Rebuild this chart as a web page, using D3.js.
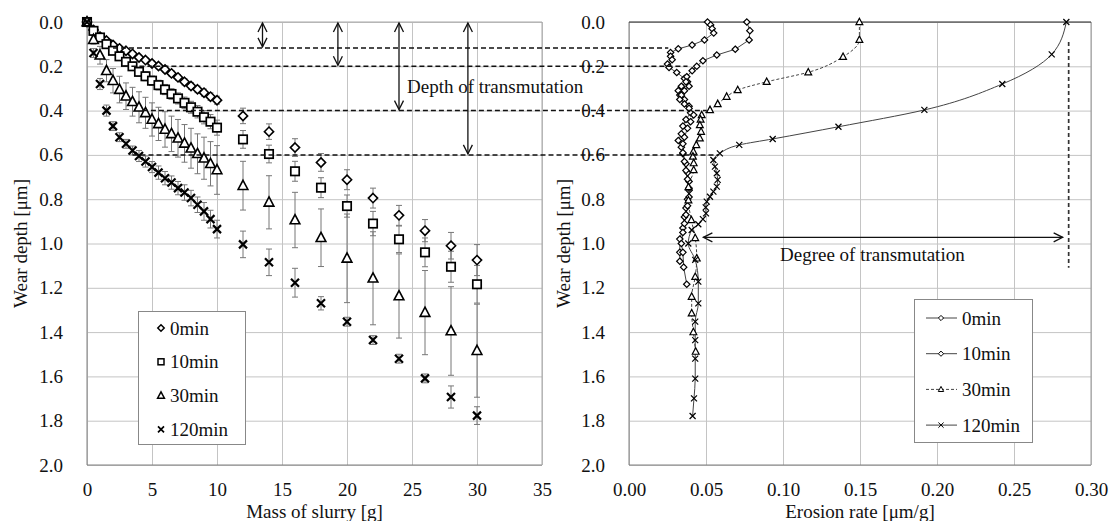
<!DOCTYPE html>
<html>
<head>
<meta charset="utf-8">
<script src="https://cdn.jsdelivr.net/npm/d3@7"></script>
<style>
  html, body { margin: 0; padding: 0; background: #fff; }
  svg text { font-family: "Liberation Serif", "Times New Roman", serif; fill: #111; }
</style>
</head>
<body>
<svg id="chart" width="1109" height="521"></svg>
<script>
// ---- data: left chart (mass of slurry vs wear depth) ----
const mass = [0,0.5,1,1.5,2,2.5,3,3.5,4,4.5,5,5.5,6,6.5,7,7.5,8,8.5,9,9.5,10,
  12,14,16,18,20,22,24,26,28,30];

const depth0 = [0,0.036,0.066,0.084,0.104,0.119,0.13,0.144,0.16,0.172,0.187,0.199,0.214,0.232,0.25,0.27,0.289,0.304,0.319,0.337,0.353,
  0.424,0.495,0.567,0.634,0.712,0.795,0.873,0.942,1.01,1.075];
const err0 = [0,0.005,0.006,0.007,0.008,0.008,0.009,0.01,0.01,0.011,0.011,0.012,0.012,0.013,0.013,0.014,0.015,0.015,0.016,0.017,0.018,
  0.035,0.035,0.04,0.04,0.045,0.045,0.045,0.05,0.06,0.07];

const depth10 = [0,0.04,0.07,0.1,0.13,0.155,0.18,0.2,0.225,0.245,0.265,0.285,0.305,0.325,0.345,0.365,0.385,0.405,0.43,0.45,0.477,
  0.53,0.596,0.674,0.748,0.831,0.91,0.981,1.04,1.105,1.184];
const err10 = [0,0.01,0.012,0.014,0.015,0.016,0.017,0.018,0.019,0.02,0.021,0.022,0.023,0.024,0.025,0.026,0.027,0.028,0.03,0.032,0.034,
  0.04,0.04,0.045,0.045,0.05,0.055,0.06,0.065,0.07,0.085];

const depth30 = [0,0.08,0.15,0.22,0.265,0.305,0.335,0.36,0.385,0.41,0.44,0.46,0.485,0.505,0.525,0.548,0.57,0.595,0.615,0.64,0.668,
  0.739,0.814,0.894,0.974,1.067,1.157,1.237,1.312,1.395,1.484];
const err30 = [0,0.02,0.04,0.05,0.055,0.06,0.06,0.065,0.07,0.07,0.075,0.075,0.08,0.08,0.085,0.085,0.09,0.09,0.095,0.1,0.11,
  0.11,0.12,0.125,0.13,0.2,0.21,0.19,0.19,0.2,0.21];

const depth120 = [0,0.14,0.28,0.4,0.47,0.52,0.55,0.58,0.605,0.63,0.655,0.68,0.705,0.725,0.75,0.77,0.795,0.825,0.855,0.89,0.935,
  1.004,1.085,1.177,1.27,1.353,1.436,1.52,1.609,1.693,1.777];
const err120 = [0,0.02,0.025,0.025,0.02,0.02,0.02,0.02,0.025,0.025,0.025,0.03,0.03,0.03,0.03,0.035,0.035,0.035,0.04,0.04,0.04,
  0.06,0.06,0.065,0.03,0.02,0.02,0.02,0.02,0.05,0.04];

// ---- data: right chart (erosion rate vs wear depth) ----
const rDepth0 = [0,0.013,0.03,0.05,0.081,0.104,0.121,0.138,0.155,0.17,0.19,0.205,0.228,0.255,0.27,0.29,0.31,0.33,0.35,0.38,
  0.41,0.44,0.47,0.505,0.535,0.565,0.595,0.64,0.68,0.72,0.76,0.8,0.84,0.88,0.93,0.98,1.04,1.08];
const rRate0 = [0.051,0.053,0.054,0.055,0.049,0.041,0.032,0.027,0.027,0.028,0.025,0.026,0.031,0.036,0.038,0.034,0.032,0.033,0.036,0.039,
  0.04,0.037,0.035,0.034,0.032,0.034,0.035,0.037,0.038,0.039,0.039,0.038,0.037,0.036,0.035,0.033,0.033,0.033];

const rDepth10 = [0,0.039,0.081,0.123,0.149,0.175,0.2,0.22,0.247,0.27,0.29,0.31,0.33,0.35,0.37,0.39,0.42,0.45,0.48,0.52,
  0.55,0.59,0.63,0.67,0.71,0.75,0.79,0.83,0.87,0.91,0.95,1.0,1.04,1.107,1.184];
const rRate10 = [0.0765,0.0785,0.078,0.069,0.057,0.048,0.044,0.041,0.0375,0.037,0.039,0.036,0.034,0.033,0.036,0.039,0.042,0.04,0.038,0.036,
  0.035,0.035,0.036,0.037,0.038,0.039,0.039,0.038,0.037,0.036,0.035,0.034,0.035,0.0355,0.0375];

const rDepth30 = [0,0.08,0.157,0.227,0.27,0.307,0.337,0.37,0.397,0.42,0.44,0.465,0.495,0.525,0.555,0.585,0.607,0.637,0.668,
  0.745,0.805,0.894,0.975,1.067,1.15,1.24,1.315,1.4,1.488];
const rRate30 = [0.1496,0.1496,0.139,0.1164,0.0894,0.0706,0.0634,0.0576,0.0526,0.0472,0.0465,0.046,0.0468,0.046,0.0437,0.0418,0.0415,0.042,0.042,
  0.0386,0.0386,0.0405,0.043,0.044,0.043,0.0407,0.0407,0.0418,0.0433];

const rDepth120 = [0,0.146,0.28,0.397,0.473,0.528,0.555,0.593,0.623,0.653,0.683,0.713,0.743,0.766,0.789,0.811,0.837,0.864,0.89,0.913,0.939,
  1.0,1.074,1.172,1.27,1.353,1.436,1.52,1.61,1.699,1.779];
const rRate120 = [0.284,0.2745,0.2424,0.1918,0.136,0.0933,0.0716,0.059,0.0548,0.0558,0.057,0.0576,0.057,0.0548,0.0526,0.0505,0.0498,0.05,0.048,0.045,0.0407,
  0.0385,0.043,0.045,0.045,0.043,0.043,0.043,0.043,0.0422,0.0413];

// ---- annotations ----
const legendLabels = ["0min", "10min", "30min", "120min"];
const transDepth = [0.117, 0.2, 0.4, 0.6];     // depth of transmutation levels
const transMassStart = [2, 2.8, 4.3, 3.5];     // where dashed lines leave left curves
const transRateEnd = [0.0255, 0.038, 0.0505, 0.058];
const arrowMass = [13.5, 19.3, 24, 29.3];
const degreeDepth = 0.972, degreeFrom = 0.0483, degreeTo = 0.2816;
const degreeLineRate = 0.2855, degreeLineTop = 0.09, degreeLineBottom = 1.11;

const svg = d3.select("#chart");
const yTop = 22, yBottom = 465;
const serif = '"Liberation Serif", "Times New Roman", serif';

const xL = d3.scaleLinear().domain([0, 35]).range([87, 542]);
const xR = d3.scaleLinear().domain([0, 0.3]).range([629, 1091]);
const y = d3.scaleLinear().domain([0, 2]).range([yTop, yBottom]);

const gridColor = "#c4c4c4";
const fontSize = 19;

function drawFrame(x, xTicks, xFmt) {
  const g = svg.append("g");
  // vertical grid + x tick labels
  const ax = g.append("g").attr("transform", `translate(0,${yBottom})`)
    .call(d3.axisBottom(x).tickValues(xTicks).tickFormat(xFmt)
      .tickSize(-(yBottom - yTop)).tickPadding(17.5));
  ax.select(".domain").remove();
  ax.attr("font-family", null).attr("font-size", null);
  ax.selectAll("line").attr("stroke", gridColor);
  ax.selectAll("text").style("font-family", serif).style("font-size", fontSize + "px");
  // horizontal grid + y tick labels
  const ay = g.append("g").attr("transform", `translate(${x.range()[0]},0)`)
    .call(d3.axisLeft(y).tickValues(d3.range(0, 2.01, 0.2)).tickFormat(d3.format(".1f"))
      .tickSize(-(x.range()[1] - x.range()[0])).tickPadding(24));
  ay.select(".domain").remove();
  ay.attr("font-family", null).attr("font-size", null);
  ay.selectAll("line").attr("stroke", gridColor);
  ay.selectAll("text").style("font-family", serif).style("font-size", fontSize + "px");
  return g;
}

drawFrame(xL, d3.range(0, 36, 5), d3.format("d"));
drawFrame(xR, d3.range(0, 0.301, 0.05), d3.format(".2f"));

// borders
function border(x1, x2, y1, y2, c) {
  svg.append("line").attr("x1", x1).attr("x2", x2).attr("y1", y1).attr("y2", y2).attr("stroke", c);
}
border(xL(0), xL(0), yTop, yBottom, "#808080");
border(xL(0), xL(35), yBottom, yBottom, "#808080");
border(xL(35), xL(35), yTop, yBottom, "#a8a8a8");
border(xL(0), xL(35), yTop, yTop, "#a8a8a8");
border(xR(0), xR(0), yTop, yBottom, "#808080");
border(xR(0), xR(0.3), yBottom, yBottom, "#808080");
border(xR(0.3), xR(0.3), yTop, yBottom, "#999");
border(xR(0), xR(0.3), yTop, yTop, "#222");

// axis titles
svg.append("text").attr("x", xL(17.5)).attr("y", 518).attr("text-anchor", "middle")
  .attr("font-size", fontSize).text("Mass of slurry [g]");
svg.append("text").attr("x", xR(0.15)).attr("y", 518).attr("text-anchor", "middle")
  .attr("font-size", fontSize).text("Erosion rate [μm/g]");
svg.append("text").attr("transform", `translate(26.5,${y(1)}) rotate(-90)`).attr("text-anchor", "middle")
  .attr("font-size", fontSize).text("Wear depth [μm]");
svg.append("text").attr("transform", `translate(570,${y(1)}) rotate(-90)`).attr("text-anchor", "middle")
  .attr("font-size", fontSize).text("Wear depth [μm]");

// marker drawing
function marker(g, type, cx, cy, s, sw) {
  if (type === "diamond") {
    g.append("path").attr("d", `M${cx},${cy - s}L${cx + s},${cy}L${cx},${cy + s}L${cx - s},${cy}Z`)
      .attr("fill", "#fff").attr("stroke", "#000").attr("stroke-width", sw);
  } else if (type === "square") {
    g.append("rect").attr("x", cx - s).attr("y", cy - s).attr("width", 2 * s).attr("height", 2 * s)
      .attr("fill", "#fff").attr("stroke", "#000").attr("stroke-width", sw);
  } else if (type === "triangle") {
    g.append("path").attr("d", `M${cx},${cy - s}L${cx + s * 0.9},${cy + s * 0.7}L${cx - s * 0.9},${cy + s * 0.7}Z`)
      .attr("fill", "#fff").attr("stroke", "#000").attr("stroke-width", sw);
  } else {
    g.append("path").attr("d", `M${cx - s},${cy - s}L${cx + s},${cy + s}M${cx - s},${cy + s}L${cx + s},${cy - s}`)
      .attr("fill", "none").attr("stroke", "#000").attr("stroke-width", sw);
  }
}

// ---- left chart ----
const leftSeries = [
  { depth: depth0, err: err0, type: "diamond", s: 4.6, sw: 1.6 },
  { depth: depth10, err: err10, type: "square", s: 4.2, sw: 1.7 },
  { depth: depth30, err: err30, type: "triangle", s: 5.4, sw: 1.6 },
  { depth: depth120, err: err120, type: "x", s: 4, sw: 2.2 }
];

const errG = svg.append("g");
leftSeries.forEach(sr => {
  mass.forEach((m, i) => {
    const e = sr.err[i];
    if (!e) return;
    const x = xL(m), y1 = y(sr.depth[i] - e), y2 = y(sr.depth[i] + e);
    errG.append("line").attr("x1", x).attr("x2", x).attr("y1", y1).attr("y2", y2).attr("stroke", "#777").attr("stroke-width", 1);
    [y1, y2].forEach(yy => errG.append("line").attr("x1", x - 3).attr("x2", x + 3).attr("y1", yy).attr("y2", yy)
      .attr("stroke", "#777").attr("stroke-width", 1));
  });
});

const markG = svg.append("g");
leftSeries.forEach(sr => {
  mass.forEach((m, i) => marker(markG, sr.type, xL(m), y(sr.depth[i]), sr.s, sr.sw));
});

// left legend
const lg = svg.append("g");
lg.append("rect").attr("x", 138.5).attr("y", 311.5).attr("width", 107).attr("height", 133)
  .attr("fill", "#fff").attr("stroke", "#888");
const lgTypes = ["diamond", "square", "triangle", "x"];
const lgSizes = [3.2, 3, 3.8, 3];
legendLabels.forEach((lab, i) => {
  const yy = 328 + i * 33.8;
  marker(lg, lgTypes[i], 161, yy, lgSizes[i], i === 3 ? 1.7 : 1.5);
  lg.append("text").attr("x", 170).attr("y", yy).attr("dy", "0.35em").attr("font-size", fontSize).text(lab);
});

// ---- right chart ----
const rightSeries = [
  { depth: rDepth0, rate: rRate0, type: "diamond", s: 3.2, dash: null, curve: d3.curveLinear },
  { depth: rDepth10, rate: rRate10, type: "diamond", s: 3.2, dash: null, curve: d3.curveLinear },
  { depth: rDepth30, rate: rRate30, type: "triangle", s: 3.8, dash: "3,2", curve: d3.curveMonotoneY },
  { depth: rDepth120, rate: rRate120, type: "x", s: 3, dash: null, curve: d3.curveMonotoneY }
];

const rg = svg.append("g");
rightSeries.forEach(sr => {
  const pts = sr.depth.map((d, i) => [xR(sr.rate[i]), y(d)]);
  rg.append("path").attr("d", d3.line().curve(sr.curve)(pts))
    .attr("fill", "none").attr("stroke", "#444").attr("stroke-width", 1)
    .attr("stroke-dasharray", sr.dash);
});
rightSeries.forEach(sr => {
  sr.depth.forEach((d, i) => marker(rg, sr.type, xR(sr.rate[i]), y(d), sr.s, 1.2));
});

// right legend
const rlg = svg.append("g");
rlg.append("rect").attr("x", 914.5).attr("y", 299.5).attr("width", 118).attr("height", 143)
  .attr("fill", "#fff").attr("stroke", "#888");
const rlgTypes = ["diamond", "diamond", "triangle", "x"];
legendLabels.forEach((lab, i) => {
  const yy = 318 + i * 35.7;
  rlg.append("line").attr("x1", 926).attr("x2", 957).attr("y1", yy).attr("y2", yy)
    .attr("stroke", "#444").attr("stroke-width", 1).attr("stroke-dasharray", i === 2 ? "3,2" : null);
  marker(rlg, rlgTypes[i], 941, yy, i === 2 ? 3 : 2.6, 1);
  rlg.append("text").attr("x", 962).attr("y", yy).attr("dy", "0.35em").attr("font-size", fontSize).text(lab);
});

// ---- annotations ----
const ann = svg.append("g");
transDepth.forEach((d, i) => {
  ann.append("line").attr("x1", xL(transMassStart[i])).attr("x2", xR(transRateEnd[i]))
    .attr("y1", y(d)).attr("y2", y(d))
    .attr("stroke", "#111").attr("stroke-width", 1.5).attr("stroke-dasharray", "5,3");
});

function arrowHead(g, x, yy, dx, dy) {
  // open V head pointing along (dx, dy)
  const L = 9, W = 4.5;
  const bx = x - dx * L, by = yy - dy * L;
  g.append("path").attr("d", `M${bx - dy * W},${by + dx * W}L${x},${yy}L${bx + dy * W},${by - dx * W}`)
    .attr("fill", "none").attr("stroke", "#111").attr("stroke-width", 1.3);
}

arrowMass.forEach((m, i) => {
  const x = xL(m), y1 = y(0) + 1, y2 = y(transDepth[i]) - 1;
  ann.append("line").attr("x1", x).attr("x2", x).attr("y1", y1).attr("y2", y2)
    .attr("stroke", "#111").attr("stroke-width", 1.3);
  arrowHead(ann, x, y1, 0, -1);
  arrowHead(ann, x, y2, 0, 1);
});

ann.append("text").attr("x", 407).attr("y", y(0.29)).attr("dy", "0.35em").attr("font-size", fontSize)
  .text("Depth of transmutation");

// degree of transmutation
ann.append("line").attr("x1", xR(degreeLineRate)).attr("x2", xR(degreeLineRate))
  .attr("y1", y(degreeLineTop)).attr("y2", y(degreeLineBottom))
  .attr("stroke", "#333").attr("stroke-width", 1.7).attr("stroke-dasharray", "4,3");
ann.append("line").attr("x1", xR(degreeFrom)).attr("x2", xR(degreeTo))
  .attr("y1", y(degreeDepth)).attr("y2", y(degreeDepth))
  .attr("stroke", "#111").attr("stroke-width", 1.3);
arrowHead(ann, xR(degreeFrom), y(degreeDepth), -1, 0);
arrowHead(ann, xR(degreeTo), y(degreeDepth), 1, 0);
ann.append("text").attr("x", 780).attr("y", y(1.05)).attr("dy", "0.35em").attr("font-size", fontSize)
  .text("Degree of transmutation");
</script>
</body>
</html>
